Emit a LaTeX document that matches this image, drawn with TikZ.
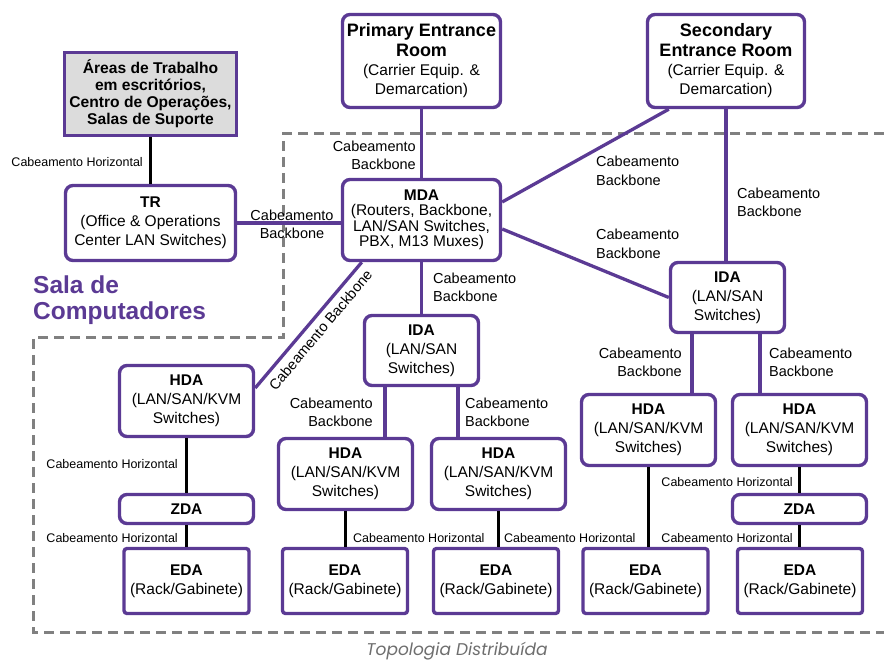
\documentclass[tikz,border=0pt]{standalone}
\usepackage{fontspec}
\setmainfont{Liberation Sans}
\newfontfamily\popfont{Poppins}
\usetikzlibrary{calc}
\definecolor{purp}{HTML}{5B3A94}
\definecolor{dashgray}{HTML}{808080}
\definecolor{boxgray}{HTML}{DCDCDC}
\definecolor{titlegray}{HTML}{6E6E6E}
\begin{document}
\begin{tikzpicture}[x=1pt,y=-1pt,
  box/.style={draw=purp, line width=3.4pt, rounded corners=7.5pt, fill=white, align=center, inner sep=0pt, font=\fontsize{15.5}{19}\selectfont},
  sbox/.style={box, rounded corners=3pt},
  bb/.style={draw=purp, line width=3.3pt},
  hz/.style={draw=black, line width=3.3pt},
  lbl/.style={font=\fontsize{14.5}{18.5}\selectfont, inner sep=0pt},
  hlbl/.style={font=\fontsize{12.5}{15}\selectfont, inner sep=0pt}
]
\useasboundingbox (0,0) rectangle (884,660);

% dashed computer-room boundary
\draw[dashgray, line width=3pt, dash pattern=on 10pt off 6pt]
  (884,134) -- (283,134) -- (283,338) -- (33,338) -- (33,632) -- (884,632);

% boxes
\node[draw=purp, line width=3.4pt, fill=boxgray, align=center, inner sep=0pt,
  minimum width=172, minimum height=83,
  font=\fontsize{15.6}{17}\selectfont\bfseries] (are) at (150.5,94)
  {Áreas de Trabalho\\em escritórios,\\Centro de Operações,\\Salas de Suporte};
\node[box, minimum width=158, minimum height=93] (pri) at (421.5,61)
  {{\fontsize{18}{20}\selectfont\bfseries Primary Entrance}\\[1pt]{\fontsize{18}{20}\selectfont\bfseries Room}\\(Carrier Equip. \&\\Demarcation)};
\node[box, minimum width=157, minimum height=93] (sec) at (726,61)
  {{\fontsize{18}{20}\selectfont\bfseries Secondary}\\[1pt]{\fontsize{18}{20}\selectfont\bfseries Entrance Room}\\(Carrier Equip. \&\\Demarcation)};
\node[box, minimum width=170, minimum height=75] (tr) at (150.5,223)
  {\textbf{TR}\\(Office \& Operations\\Center LAN Switches)};
\node[box, minimum width=158, minimum height=81, font=\fontsize{15.5}{15.5}\selectfont] (mda) at (421.5,220)
  {\textbf{MDA}\\(Routers, Backbone,\\LAN/SAN Switches,\\PBX, M13 Muxes)};
\node[box, minimum width=114, minimum height=70] (idar) at (727.5,297.5)
  {\textbf{IDA}\\(LAN/SAN\\Switches)};
\node[box, minimum width=114, minimum height=70] (idam) at (421.5,350.5)
  {\textbf{IDA}\\(LAN/SAN\\Switches)};
\node[box, minimum width=134, minimum height=71] (hda1) at (186.5,401)
  {\textbf{HDA}\\(LAN/SAN/KVM\\Switches)};
\node[box, minimum width=134, minimum height=29] (zda1) at (186.5,509)
  {\textbf{ZDA}};
\node[sbox, minimum width=125, minimum height=65] (eda1) at (186.5,581)
  {\textbf{EDA}\\(Rack/Gabinete)};
\node[box, minimum width=134, minimum height=71] (hda2) at (345.5,474)
  {\textbf{HDA}\\(LAN/SAN/KVM\\Switches)};
\node[sbox, minimum width=125, minimum height=65] (eda2) at (345,581)
  {\textbf{EDA}\\(Rack/Gabinete)};
\node[box, minimum width=134, minimum height=71] (hda3) at (498.5,474)
  {\textbf{HDA}\\(LAN/SAN/KVM\\Switches)};
\node[sbox, minimum width=125, minimum height=65] (eda3) at (496,581)
  {\textbf{EDA}\\(Rack/Gabinete)};
\node[box, minimum width=134, minimum height=71] (hda4) at (648.5,430)
  {\textbf{HDA}\\(LAN/SAN/KVM\\Switches)};
\node[sbox, minimum width=125, minimum height=65] (eda4) at (645.5,581)
  {\textbf{EDA}\\(Rack/Gabinete)};
\node[box, minimum width=134, minimum height=71] (hda5) at (799.5,430)
  {\textbf{HDA}\\(LAN/SAN/KVM\\Switches)};
\node[box, minimum width=134, minimum height=29] (zda5) at (799.5,509)
  {\textbf{ZDA}};
\node[sbox, minimum width=125, minimum height=65] (eda5) at (800,581)
  {\textbf{EDA}\\(Rack/Gabinete)};

% connectors
\draw[hz] (are.south) -- (tr.north);
\draw[bb] (tr.east) -- (tr.east -| mda.west);
\draw[bb] (pri.south) -- (mda.north);
\draw[bb] ([xshift=23]sec.south west) -- ([yshift=18]mda.east);
\draw[bb] (sec.south) -- (sec.south |- idar.north);
\draw[bb] ([yshift=-9]mda.east) -- (idar.west);
\draw[bb] (mda.south) -- (idam.north);
\draw[bb] ([yshift=13]hda1.east) -- ([xshift=21]mda.south west);
\draw[bb] ([xshift=-36.5]idam.south) -- ([xshift=-36.5]idam.south |- hda2.north);
\draw[bb] ([xshift=36.5]idam.south) -- ([xshift=36.5]idam.south |- hda3.north);
\draw[bb] ([xshift=-35.5]idar.south) -- ([xshift=-35.5]idar.south |- hda4.north);
\draw[bb] ([xshift=32.5]idar.south) -- ([xshift=32.5]idar.south |- hda5.north);
\draw[hz] (hda1.south) -- (zda1.north);
\draw[hz] (zda1.south) -- (eda1.north);
\draw[hz] (hda2.south) -- (hda2.south |- eda2.north);
\draw[hz] (hda3.south) -- (hda3.south |- eda3.north);
\draw[hz] (hda4.south) -- (hda4.south |- eda4.north);
\draw[hz] (hda5.south) -- (zda5.north);
\draw[hz] (zda5.south) -- (zda5.south |- eda5.north);

% labels
\node[lbl, rotate=50] (ldiag) at (320.5,330) {Cabeamento Backbone};
\node[hlbl, anchor=east] (l1) at (143,162) {Cabeamento Horizontal};
\node[lbl, align=center] (l2) at (292,224.5) {Cabeamento\\Backbone};
\node[lbl, align=right, anchor=east] (l3) at (416,155.5) {Cabeamento\\Backbone};
\node[lbl, align=left, anchor=west] (l4) at (596,171) {Cabeamento\\Backbone};
\node[lbl, align=left, anchor=west] (l5) at (737,202.5) {Cabeamento\\Backbone};
\node[lbl, align=left, anchor=west] (l6) at (596,244) {Cabeamento\\Backbone};
\node[lbl, align=left, anchor=west] (l7) at (433,287.5) {Cabeamento\\Backbone};
\node[lbl, align=right, anchor=east] (l8) at (373,412.5) {Cabeamento\\Backbone};
\node[lbl, align=left, anchor=west] (l9) at (465,412.5) {Cabeamento\\Backbone};
\node[lbl, align=right, anchor=east] (l10) at (682,362.5) {Cabeamento\\Backbone};
\node[lbl, align=left, anchor=west] (l11) at (769,362.5) {Cabeamento\\Backbone};
\node[hlbl, anchor=east] (h1) at (178,464) {Cabeamento Horizontal};
\node[hlbl, anchor=east] (h2) at (178,538) {Cabeamento Horizontal};
\node[hlbl, anchor=west] (h3) at (353,538) {Cabeamento Horizontal};
\node[hlbl, anchor=west] (h4) at (504,538) {Cabeamento Horizontal};
\node[hlbl, anchor=east] (h5) at (793,482) {Cabeamento Horizontal};
\node[hlbl, anchor=east] (h6) at (793,538) {Cabeamento Horizontal};

% region name and caption
\node[anchor=west, align=left, inner sep=0pt, text=purp,
  font=\fontsize{24.5}{26}\selectfont\bfseries] (sala) at (33,300) {Sala de\\Computadores};
\node[inner sep=0pt, text=titlegray, font=\popfont\itshape\fontsize{17}{20}\selectfont] (cap) at (457,651) {Topologia Distribuída};
\end{tikzpicture}
\end{document}
